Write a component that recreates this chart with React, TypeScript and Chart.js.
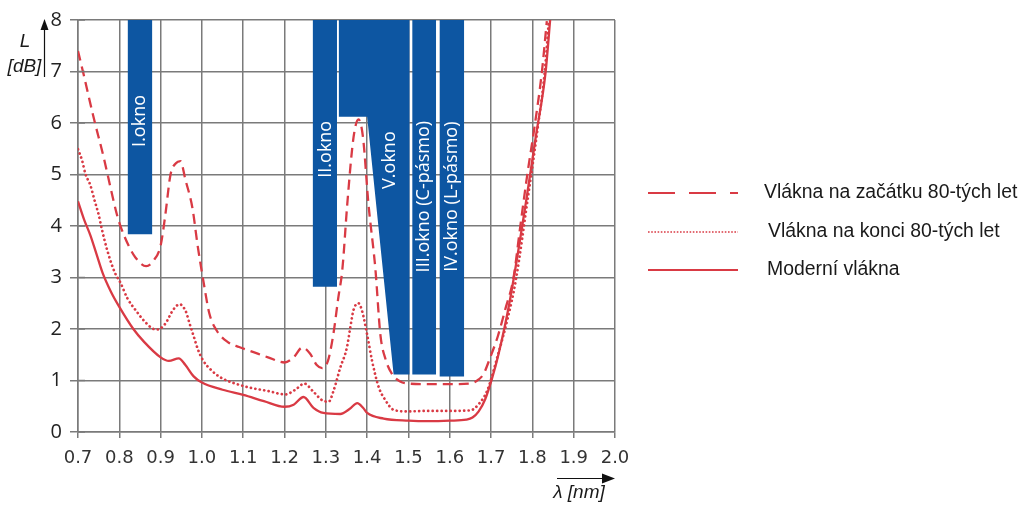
import React, { useEffect, useRef } from "react";
import { Chart, registerables } from "chart.js";

Chart.register(...registerables);

const xTickValues = [0.7, 0.8, 0.9, 1.0, 1.1, 1.2, 1.3, 1.4, 1.5, 1.6, 1.7, 1.8, 1.9, 2.0];
const yTickValues = [0, 1, 2, 3, 4, 5, 6, 7, 8];

const seriesNames = [
  "Vlákna na začátku 80-tých let",
  "Vlákna na konci 80-tých let",
  "Moderní vlákna",
];

const early80s: [number, number][] = [
  [0.700, 7.40], [0.714, 6.93], [0.738, 6.10], [0.762, 5.34], [0.782, 4.63], [0.795, 4.20],
  [0.805, 3.95], [0.823, 3.61], [0.839, 3.39], [0.865, 3.22], [0.883, 3.33], [0.900, 3.62],
  [0.911, 4.19], [0.924, 5.00], [0.937, 5.22], [0.948, 5.26], [0.960, 4.90], [0.977, 4.35],
  [0.990, 3.60], [1.004, 2.91], [1.018, 2.30], [1.035, 1.98], [1.062, 1.75], [1.090, 1.65],
  [1.125, 1.55], [1.160, 1.45], [1.200, 1.35], [1.222, 1.45], [1.243, 1.64], [1.262, 1.52],
  [1.278, 1.30], [1.291, 1.24], [1.305, 1.38], [1.318, 1.89], [1.330, 2.60], [1.340, 3.16],
  [1.352, 4.44], [1.367, 5.72], [1.379, 6.07], [1.390, 5.72], [1.403, 4.44], [1.420, 3.16],
  [1.432, 1.89], [1.445, 1.40], [1.460, 1.13], [1.480, 0.98], [1.500, 0.94], [1.550, 0.93],
  [1.600, 0.93], [1.650, 0.94], [1.670, 1.02], [1.682, 1.13], [1.698, 1.45], [1.716, 1.85],
  [1.735, 2.40], [1.754, 2.98], [1.770, 3.95], [1.787, 4.96], [1.806, 5.97], [1.823, 6.99],
  [1.835, 7.98],
];

const late80s: [number, number][] = [
  [0.700, 5.49], [0.710, 5.27], [0.718, 5.01], [0.730, 4.79], [0.740, 4.50], [0.750, 4.22],
  [0.758, 3.93], [0.769, 3.58], [0.780, 3.29], [0.790, 3.08], [0.802, 2.91], [0.820, 2.59],
  [0.841, 2.35], [0.861, 2.15], [0.883, 2.00], [0.893, 1.99], [0.911, 2.10], [0.931, 2.38],
  [0.946, 2.48], [0.961, 2.34], [0.970, 2.11], [0.980, 1.86], [0.990, 1.61], [1.002, 1.40],
  [1.024, 1.19], [1.045, 1.06], [1.077, 0.95], [1.117, 0.86], [1.158, 0.80], [1.202, 0.73],
  [1.226, 0.82], [1.248, 0.94], [1.270, 0.78], [1.295, 0.60], [1.307, 0.59], [1.319, 0.81],
  [1.335, 1.25], [1.351, 1.64], [1.359, 2.02], [1.367, 2.37], [1.379, 2.50], [1.388, 2.34],
  [1.400, 1.89], [1.412, 1.38], [1.428, 0.87], [1.444, 0.62], [1.464, 0.43], [1.496, 0.40],
  [1.550, 0.41], [1.600, 0.41], [1.650, 0.42], [1.672, 0.56], [1.691, 0.81], [1.716, 1.48],
  [1.740, 2.20], [1.760, 2.95], [1.790, 4.60], [1.812, 5.85], [1.830, 7.00], [1.840, 8.00],
];

const modern: [number, number][] = [
  [0.700, 4.48], [0.715, 4.12], [0.730, 3.82], [0.745, 3.45], [0.760, 3.08], [0.780, 2.72],
  [0.800, 2.43], [0.834, 2.00], [0.860, 1.75], [0.900, 1.45], [0.920, 1.38], [0.944, 1.43],
  [0.960, 1.30], [0.980, 1.08], [1.000, 0.96], [1.050, 0.82], [1.100, 0.72], [1.150, 0.60],
  [1.200, 0.49], [1.222, 0.53], [1.246, 0.68], [1.270, 0.47], [1.294, 0.37], [1.335, 0.35],
  [1.358, 0.45], [1.376, 0.56], [1.390, 0.47], [1.400, 0.37], [1.440, 0.26], [1.500, 0.22],
  [1.550, 0.21], [1.600, 0.22], [1.640, 0.24], [1.655, 0.28], [1.670, 0.40], [1.686, 0.64],
  [1.703, 1.06], [1.718, 1.51], [1.745, 2.53], [1.784, 4.44], [1.808, 5.72], [1.832, 6.99],
  [1.843, 8.00],
];

// transmission windows: lower boundary of each blue band (bands reach up to 8 dB)
const windowLabels = ["I.okno", "II.okno", "V.okno", "III.okno (C-pásmo)", "IV.okno (L-pásmo)"];
const windowI: [number, number][] = [[0.820, 3.84], [0.880, 3.84]];
const windowII: [number, number][] = [[1.268, 2.82], [1.327, 2.82]];
const windowV: [number, number][] = [[1.331, 6.12], [1.400, 6.12], [1.464, 1.115], [1.503, 1.115]];
const windowIII: [number, number][] = [[1.509, 1.115], [1.567, 1.115]];
const windowIV: [number, number][] = [[1.575, 1.077], [1.635, 1.077]];
const windowShapes = [windowI, windowII, windowV, windowIII, windowIV];
const labelWavelength = [0.851, 1.299, 1.454, 1.538, 1.606];
const labelLoss = [6.04, 5.49, 5.28, 4.57, 4.57];

const RED = "#d93a44";
const BLUE = "#0d56a2";
const GRID = "#7a7a7a";

const toPts = (arr: [number, number][]) => arr.map(([x, y]) => ({ x, y }));

const decorations = {
  id: "decorations",
  afterDatasetsDraw(chart: any) {
    const { ctx, scales } = chart;
    const xs = scales.x;
    const ys = scales.y;
    ctx.save();
    ctx.fillStyle = "#ffffff";
    ctx.font = '18px "Open Sans"';
    ctx.textAlign = "center";
    ctx.textBaseline = "middle";
    windowLabels.forEach((lbl, i) => {
      ctx.save();
      ctx.translate(xs.getPixelForValue(labelWavelength[i]), ys.getPixelForValue(labelLoss[i]));
      ctx.rotate(-Math.PI / 2);
      ctx.fillText(lbl, 0, 0);
      ctx.restore();
    });
    ctx.restore();
  },
  afterDraw(chart: any) {
    const { ctx, scales, chartArea } = chart;
    const ys = scales.y;
    ctx.save();
    // inner part of y ticks
    ctx.strokeStyle = GRID;
    ctx.lineWidth = 1.5;
    yTickValues.forEach((v) => {
      const py = ys.getPixelForValue(v);
      ctx.beginPath();
      ctx.moveTo(chartArea.left, py);
      ctx.lineTo(chartArea.left + 7, py);
      ctx.stroke();
    });

    // y title
    ctx.fillStyle = "#1a1a1a";
    ctx.font = 'italic 19px "Liberation Sans"';
    ctx.textAlign = "center";
    ctx.textBaseline = "middle";
    ctx.fillText("L", 25, 42);
    ctx.fillText("[dB]", 24.5, 67);
    // y arrow
    ctx.strokeStyle = "#111";
    ctx.fillStyle = "#111";
    ctx.lineWidth = 1.2;
    ctx.beginPath();
    ctx.moveTo(44.5, 77);
    ctx.lineTo(44.5, 28);
    ctx.stroke();
    ctx.beginPath();
    ctx.moveTo(44.5, 19);
    ctx.lineTo(40.5, 30);
    ctx.lineTo(48.5, 30);
    ctx.closePath();
    ctx.fill();

    // x title
    ctx.fillStyle = "#1a1a1a";
    ctx.font = 'italic 19px "Liberation Sans"';
    ctx.fillText("λ [nm]", 579, 493);
    ctx.strokeStyle = "#111";
    ctx.fillStyle = "#111";
    ctx.beginPath();
    ctx.moveTo(557, 478.5);
    ctx.lineTo(604, 478.5);
    ctx.stroke();
    ctx.beginPath();
    ctx.moveTo(615, 478.5);
    ctx.lineTo(602, 473.5);
    ctx.lineTo(602, 483.5);
    ctx.closePath();
    ctx.fill();

    // legend
    const rows = [
      { y: 193, dash: [27, 14], width: 2.2, tx: 764 },
      { y: 232, dash: [1.6, 1.6], width: 1.7, tx: 768 },
      { y: 270, dash: [], width: 2.2, tx: 767 },
    ];
    rows.forEach((r, i) => {
      ctx.strokeStyle = RED;
      ctx.lineWidth = r.width;
      ctx.lineCap = "butt";
      ctx.setLineDash(r.dash);
      ctx.beginPath();
      ctx.moveTo(648, r.y);
      ctx.lineTo(738, r.y);
      ctx.stroke();
      ctx.setLineDash([]);
      ctx.fillStyle = "#1a1a1a";
      ctx.font = '19.4px "Liberation Sans"';
      ctx.textAlign = "left";
      ctx.textBaseline = "middle";
      ctx.fillText(seriesNames[i], r.tx, r.y);
    });
    ctx.restore();
  },
};

export default function App() {
  const canvasRef = useRef<HTMLCanvasElement | null>(null);

  useEffect(() => {
    if (!canvasRef.current) return;
    const curveBase = {
      borderColor: RED,
      pointRadius: 0,
      fill: false,
      cubicInterpolationMode: "monotone" as const,
      order: 0,
    };
    const datasets: any[] = [
      { ...curveBase, label: seriesNames[0], data: toPts(early80s), borderWidth: 2.3, borderDash: [10, 6] },
      { ...curveBase, label: seriesNames[1], data: toPts(late80s), borderWidth: 2.7, borderDash: [0.1, 4.4], borderCapStyle: "round" },
      { ...curveBase, label: seriesNames[2], data: toPts(modern), borderWidth: 2.3 },
      ...windowShapes.map((shape, i) => ({
        label: windowLabels[i],
        data: toPts(shape),
        borderColor: "rgba(0,0,0,0)",
        borderWidth: 1,
        backgroundColor: BLUE,
        pointRadius: 0,
        tension: 0,
        fill: { value: 8 },
        order: 1,
      })),
    ];

    const chart = new Chart(canvasRef.current, {
      type: "line",
      data: { datasets },
      plugins: [decorations],
      options: {
        animation: false,
        responsive: true,
        maintainAspectRatio: false,
        layout: { padding: { top: 14, right: 408, left: 0, bottom: 0 } },
        plugins: { legend: { display: false }, tooltip: { enabled: false } },
        scales: {
          x: {
            type: "linear",
            min: 0.7,
            max: 2.0,
            afterBuildTicks: (s: any) => {
              s.ticks = xTickValues.map((v) => ({ value: v }));
            },
            afterFit: (s: any) => {
              s.height = 82;
            },
            ticks: {
              callback: (v: any) => Number(v).toFixed(1),
              font: { family: '"DejaVu Sans"', size: 18 },
              color: "#333",
              padding: 10,
              maxRotation: 0,
              autoSkip: false,
            },
            grid: { color: GRID, lineWidth: 1.5, tickLength: 6 },
            border: { color: GRID, width: 1.5 },
          },
          y: {
            min: 0,
            max: 8,
            afterBuildTicks: (s: any) => {
              s.ticks = yTickValues.map((v) => ({ value: v }));
            },
            afterFit: (s: any) => {
              s.width = 78;
            },
            ticks: {
              callback: (v: any) => String(v),
              font: { family: '"Open Sans"', size: 20 },
              color: "#222",
              padding: 8,
            },
            grid: { color: GRID, lineWidth: 1.5, tickLength: 8 },
            border: { color: GRID, width: 1.5 },
          },
        },
      },
    });
    return () => chart.destroy();
  }, []);

  return (
    <div style={{ position: "absolute", left: 0, top: 0, width: 1023, height: 514, background: "#fff" }}>
      <canvas ref={canvasRef} />
    </div>
  );
}
